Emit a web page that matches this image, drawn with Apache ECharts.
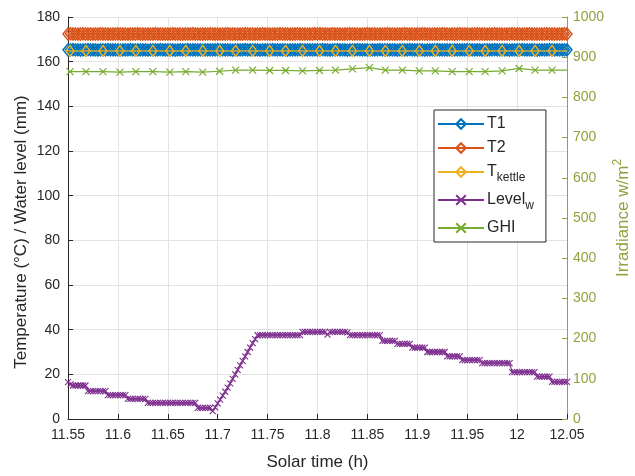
<!DOCTYPE html>
<html>
<head>
<meta charset="utf-8">
<script src="https://cdn.jsdelivr.net/npm/echarts@6/dist/echarts.min.js"></script>
<style>
  html, body { margin: 0; padding: 0; background: #ffffff; overflow: hidden; }
  #chart { width: 635px; height: 476px; }
</style>
</head>
<body>
<div id="chart"></div>
<script>
// Fast-logged channels (every 0.0025 h): collector temperatures and water level
const timeFast = [
  11.5500, 11.5525, 11.5550, 11.5575, 11.5600, 11.5625, 11.5650, 11.5675, 11.5700, 11.5725,
  11.5750, 11.5775, 11.5800, 11.5825, 11.5850, 11.5875, 11.5900, 11.5925, 11.5950, 11.5975,
  11.6000, 11.6025, 11.6050, 11.6075, 11.6100, 11.6125, 11.6150, 11.6175, 11.6200, 11.6225,
  11.6250, 11.6275, 11.6300, 11.6325, 11.6350, 11.6375, 11.6400, 11.6425, 11.6450, 11.6475,
  11.6500, 11.6525, 11.6550, 11.6575, 11.6600, 11.6625, 11.6650, 11.6675, 11.6700, 11.6725,
  11.6750, 11.6775, 11.6800, 11.6825, 11.6850, 11.6875, 11.6900, 11.6925, 11.6950, 11.6975,
  11.7000, 11.7025, 11.7050, 11.7075, 11.7100, 11.7125, 11.7150, 11.7175, 11.7200, 11.7225,
  11.7250, 11.7275, 11.7300, 11.7325, 11.7350, 11.7375, 11.7400, 11.7425, 11.7450, 11.7475,
  11.7500, 11.7525, 11.7550, 11.7575, 11.7600, 11.7625, 11.7650, 11.7675, 11.7700, 11.7725,
  11.7750, 11.7775, 11.7800, 11.7825, 11.7850, 11.7875, 11.7900, 11.7925, 11.7950, 11.7975,
  11.8000, 11.8025, 11.8050, 11.8075, 11.8100, 11.8125, 11.8150, 11.8175, 11.8200, 11.8225,
  11.8250, 11.8275, 11.8300, 11.8325, 11.8350, 11.8375, 11.8400, 11.8425, 11.8450, 11.8475,
  11.8500, 11.8525, 11.8550, 11.8575, 11.8600, 11.8625, 11.8650, 11.8675, 11.8700, 11.8725,
  11.8750, 11.8775, 11.8800, 11.8825, 11.8850, 11.8875, 11.8900, 11.8925, 11.8950, 11.8975,
  11.9000, 11.9025, 11.9050, 11.9075, 11.9100, 11.9125, 11.9150, 11.9175, 11.9200, 11.9225,
  11.9250, 11.9275, 11.9300, 11.9325, 11.9350, 11.9375, 11.9400, 11.9425, 11.9450, 11.9475,
  11.9500, 11.9525, 11.9550, 11.9575, 11.9600, 11.9625, 11.9650, 11.9675, 11.9700, 11.9725,
  11.9750, 11.9775, 11.9800, 11.9825, 11.9850, 11.9875, 11.9900, 11.9925, 11.9950, 11.9975,
  12.0000, 12.0025, 12.0050, 12.0075, 12.0100, 12.0125, 12.0150, 12.0175, 12.0200, 12.0225,
  12.0250, 12.0275, 12.0300, 12.0325, 12.0350, 12.0375, 12.0400, 12.0425, 12.0450, 12.0475,
  12.0500
];

const t1Values = [
  165.3, 165.3, 165.4, 165.3, 165.3, 165.2, 165.3, 165.3, 165.4, 165.3,
  165.3, 165.3, 165.2, 165.3, 165.3, 165.3, 165.4, 165.3, 165.3, 165.3,
  165.3, 165.2, 165.3, 165.3, 165.3, 165.4, 165.3, 165.3, 165.3, 165.3,
  165.3, 165.3, 165.2, 165.3, 165.3, 165.3, 165.3, 165.4, 165.3, 165.3,
  165.3, 165.3, 165.3, 165.2, 165.3, 165.3, 165.3, 165.3, 165.4, 165.3,
  165.3, 165.3, 165.3, 165.3, 165.2, 165.3, 165.3, 165.3, 165.3, 165.3,
  165.4, 165.3, 165.3, 165.3, 165.3, 165.3, 165.2, 165.3, 165.3, 165.3,
  165.3, 165.4, 165.3, 165.3, 165.3, 165.3, 165.3, 165.2, 165.3, 165.3,
  165.3, 165.3, 165.4, 165.3, 165.3, 165.3, 165.3, 165.3, 165.2, 165.3,
  165.3, 165.3, 165.3, 165.4, 165.3, 165.3, 165.3, 165.3, 165.3, 165.3,
  165.3, 165.3, 165.4, 165.3, 165.3, 165.2, 165.3, 165.3, 165.4, 165.3,
  165.3, 165.3, 165.2, 165.3, 165.3, 165.3, 165.4, 165.3, 165.3, 165.3,
  165.3, 165.2, 165.3, 165.3, 165.3, 165.4, 165.3, 165.3, 165.3, 165.3,
  165.3, 165.3, 165.2, 165.3, 165.3, 165.3, 165.3, 165.4, 165.3, 165.3,
  165.3, 165.3, 165.3, 165.2, 165.3, 165.3, 165.3, 165.3, 165.4, 165.3,
  165.3, 165.3, 165.3, 165.3, 165.2, 165.3, 165.3, 165.3, 165.3, 165.3,
  165.4, 165.3, 165.3, 165.3, 165.3, 165.3, 165.2, 165.3, 165.3, 165.3,
  165.3, 165.4, 165.3, 165.3, 165.3, 165.3, 165.3, 165.2, 165.3, 165.3,
  165.3, 165.3, 165.4, 165.3, 165.3, 165.3, 165.3, 165.3, 165.2, 165.3,
  165.3, 165.3, 165.3, 165.4, 165.3, 165.3, 165.3, 165.3, 165.3, 165.3,
  165.3
];

const t2Values = [
  172.4, 172.5, 172.4, 172.4, 172.3, 172.4, 172.5, 172.4, 172.4, 172.4,
  172.3, 172.4, 172.4, 172.5, 172.4, 172.4, 172.4, 172.3, 172.4, 172.4,
  172.5, 172.4, 172.4, 172.4, 172.3, 172.4, 172.4, 172.4, 172.5, 172.4,
  172.4, 172.3, 172.4, 172.4, 172.4, 172.5, 172.4, 172.4, 172.4, 172.3,
  172.4, 172.4, 172.5, 172.4, 172.4, 172.4, 172.3, 172.4, 172.4, 172.4,
  172.5, 172.4, 172.4, 172.3, 172.4, 172.4, 172.4, 172.5, 172.4, 172.4,
  172.4, 172.3, 172.4, 172.4, 172.5, 172.4, 172.4, 172.4, 172.3, 172.4,
  172.4, 172.5, 172.4, 172.4, 172.4, 172.3, 172.4, 172.4, 172.5, 172.4,
  172.4, 172.4, 172.3, 172.4, 172.4, 172.5, 172.4, 172.4, 172.4, 172.3,
  172.4, 172.4, 172.5, 172.4, 172.4, 172.4, 172.3, 172.4, 172.4, 172.5,
  172.4, 172.5, 172.4, 172.4, 172.3, 172.4, 172.5, 172.4, 172.4, 172.4,
  172.3, 172.4, 172.4, 172.5, 172.4, 172.4, 172.4, 172.3, 172.4, 172.4,
  172.5, 172.4, 172.4, 172.4, 172.3, 172.4, 172.4, 172.4, 172.5, 172.4,
  172.4, 172.3, 172.4, 172.4, 172.4, 172.5, 172.4, 172.4, 172.4, 172.3,
  172.4, 172.4, 172.5, 172.4, 172.4, 172.4, 172.3, 172.4, 172.4, 172.4,
  172.5, 172.4, 172.4, 172.3, 172.4, 172.4, 172.4, 172.5, 172.4, 172.4,
  172.4, 172.3, 172.4, 172.4, 172.5, 172.4, 172.4, 172.4, 172.3, 172.4,
  172.4, 172.5, 172.4, 172.4, 172.4, 172.3, 172.4, 172.4, 172.5, 172.4,
  172.4, 172.4, 172.3, 172.4, 172.4, 172.5, 172.4, 172.4, 172.4, 172.3,
  172.4, 172.4, 172.5, 172.4, 172.4, 172.4, 172.3, 172.4, 172.4, 172.5,
  172.4
];

const levelValues = [
  16.5, 15.5, 15.0, 15.0, 15.0, 15.0, 15.0, 15.0, 12.5, 12.5,
  12.5, 12.5, 12.5, 12.5, 12.5, 12.5, 10.7, 10.7, 10.7, 10.7,
  10.7, 10.7, 10.7, 10.7,  9.0,  9.0,  9.0,  9.0,  9.0,  9.0,
   9.0,  9.0,  7.2,  7.2,  7.2,  7.2,  7.2,  7.2,  7.2,  7.2,
   7.2,  7.2,  7.2,  7.2,  7.2,  7.2,  7.2,  7.2,  7.2,  7.2,
   7.2,  7.2,  5.0,  5.0,  5.0,  5.0,  5.0,  5.0,  3.5,  5.2,
   7.0,  8.7, 10.5, 12.2, 14.0, 16.0, 18.0, 20.0, 22.0, 24.0,
  26.0, 28.0, 30.0, 32.0, 34.0, 35.8, 37.5, 37.6, 37.6, 37.6,
  37.6, 37.6, 37.6, 37.6, 37.6, 37.6, 37.6, 37.6, 37.6, 37.6,
  37.6, 37.6, 37.6, 37.6, 39.0, 39.0, 39.0, 39.0, 39.0, 39.0,
  39.0, 39.0, 39.0, 39.0, 37.8, 39.0, 39.0, 39.0, 39.0, 39.0,
  39.0, 39.0, 38.8, 37.6, 37.6, 37.6, 37.6, 37.6, 37.6, 37.6,
  37.6, 37.6, 37.6, 37.6, 37.6, 37.6, 35.0, 35.0, 35.0, 35.0,
  35.0, 35.0, 33.6, 33.6, 33.6, 33.6, 33.6, 33.6, 32.0, 32.0,
  32.0, 32.0, 32.0, 32.0, 30.0, 30.0, 30.0, 30.0, 30.0, 30.0,
  30.0, 30.0, 28.0, 28.0, 28.0, 28.0, 28.0, 28.0, 26.4, 26.4,
  26.4, 26.4, 26.4, 26.4, 26.4, 26.4, 25.0, 25.0, 25.0, 25.0,
  25.0, 25.0, 25.0, 25.0, 25.0, 25.0, 25.0, 25.0, 21.0, 21.0,
  21.0, 21.0, 21.0, 21.0, 21.0, 21.0, 21.0, 21.0, 19.0, 19.0,
  19.0, 19.0, 19.0, 19.0, 16.6, 16.6, 16.6, 16.6, 16.6, 16.6,
  16.6
];

// Slow-logged channels (about once a minute): kettle temperature and irradiance
const timeSlow = [
  11.550, 11.552, 11.568, 11.585, 11.602, 11.618, 11.635, 11.652, 11.668, 11.685,
  11.702, 11.718, 11.735, 11.752, 11.768, 11.785, 11.802, 11.818, 11.835, 11.852,
  11.868, 11.885, 11.902, 11.918, 11.935, 11.952, 11.968, 11.985, 12.002, 12.018,
  12.035, 12.050
];

const kettleValues = [
  164.8, 164.8, 164.8, 164.8, 164.8, 164.8, 164.8, 164.8, 164.8, 164.8,
  164.8, 164.8, 164.8, 164.8, 164.8, 164.8, 164.8, 164.8, 164.8, 164.8,
  164.8, 164.8, 164.8, 164.8, 164.8, 164.8, 164.8, 164.8, 164.8, 164.8,
  164.8, 164.8
];

const ghiValues = [
  864, 864, 864, 864, 863, 864, 864, 863, 864, 863,
  865, 868, 868, 867, 867, 866, 867, 868, 871, 874,
  868, 868, 866, 866, 864, 864, 864, 866, 872, 868,
  868, 868
];

// Axis tick labels
const xTickLabels = ['11.55', '11.6', '11.65', '11.7', '11.75', '11.8', '11.85', '11.9', '11.95', '12', '12.05'];
const leftTickLabels = ['0', '20', '40', '60', '80', '100', '120', '140', '160', '180'];
const rightTickLabels = ['0', '100', '200', '300', '400', '500', '600', '700', '800', '900', '1000'];

const seriesNames = ['T1', 'T2', 'Tkettle', 'Levelw', 'GHI'];

const COLORS = {
  t1: '#0072BD',
  t2: '#D95319',
  kettle: '#EDB120',
  level: '#7E2F8E',
  ghi: '#77AC30',
  rightAxis: '#8ea33e',
  text: '#262626',
  grid: '#e3e3e3'
};

const X_MIN = 11.55, X_STEP = 0.05;
const CROSS = 'path://M0,0L10,10M0,10L10,0';

function pairs(xs, ys) {
  return xs.map((x, i) => [x, ys[i]]);
}

// First and last slow samples are line end points only, without a marker
function slowPairs(xs, ys) {
  return xs.map((x, i) => {
    const item = { value: [x, ys[i]] };
    if (i === 0 || i === xs.length - 1) item.symbol = 'none';
    return item;
  });
}

function lineSeries(name, data, color, symbol, size, yIndex, z, border) {
  return {
    name: name,
    type: 'line',
    yAxisIndex: yIndex,
    data: data,
    symbol: symbol,
    symbolSize: size,
    showAllSymbol: true,
    animation: false,
    z: z,
    lineStyle: { color: color, width: 1.2 },
    itemStyle: { color: 'rgba(255,255,255,0)', borderColor: color, borderWidth: border },
    emphasis: { disabled: true }
  };
}

const chart = echarts.init(document.getElementById('chart'), null, { renderer: 'canvas', width: 635, height: 476 });

const option = {
  backgroundColor: '#ffffff',
  animation: false,
  textStyle: { fontFamily: 'Liberation Sans, Arial, sans-serif' },
  grid: { left: 68, top: 17, width: 499, height: 402, containLabel: false, outerBoundsMode: 'none' },
  legend: {
    orient: 'vertical',
    left: 434,
    top: 110,
    padding: [6, 12, 6, 3],
    itemGap: 8,
    itemWidth: 46,
    itemHeight: 12,
    backgroundColor: '#ffffff',
    borderColor: '#262626',
    borderWidth: 1,
    data: seriesNames,
    textStyle: {
      fontSize: 16,
      color: COLORS.text,
      padding: [0, 0, 0, -2],
      rich: {
        sub: { fontSize: 12, color: COLORS.text, padding: [12, 0, 0, 0] }
      }
    },
    formatter: function (name) {
      if (name === 'Tkettle') return 'T{sub|kettle}';
      if (name === 'Levelw') return 'Level{sub|w}';
      return name;
    }
  },
  xAxis: {
    type: 'value',
    min: X_MIN,
    max: 12.05,
    interval: X_STEP,
    name: 'Solar time (h)',
    nameLocation: 'middle',
    nameGap: 35,
    nameMoveOverlap: false,
    nameTextStyle: { fontSize: 17, color: COLORS.text },
    axisLine: { lineStyle: { color: COLORS.text, width: 1 } },
    axisTick: { inside: true, length: 5, lineStyle: { color: COLORS.text } },
    axisLabel: {
      fontSize: 14,
      color: COLORS.text,
      margin: 9,
      formatter: function (v) {
        const k = Math.round((v - X_MIN) / X_STEP);
        return xTickLabels[k] !== undefined ? xTickLabels[k] : '';
      }
    },
    splitLine: { show: true, lineStyle: { color: COLORS.grid, width: 1 } }
  },
  yAxis: [
    {
      type: 'value',
      position: 'left',
      min: 0,
      max: 180,
      interval: 20,
      name: 'Temperature (°C) / Water level (mm)',
      nameLocation: 'middle',
      nameGap: 38,
      nameMoveOverlap: false,
      nameTextStyle: { fontSize: 17, color: COLORS.text, padding: [0, 28, 0, 0] },
      axisLine: { show: true, lineStyle: { color: COLORS.text, width: 1 } },
      axisTick: { show: true, inside: true, length: 5, lineStyle: { color: COLORS.text } },
      axisLabel: {
        fontSize: 14,
        color: COLORS.text,
        margin: 8,
        formatter: function (v) {
          const k = Math.round(v / 20);
          return leftTickLabels[k] !== undefined ? leftTickLabels[k] : '';
        }
      },
      splitLine: { show: true, lineStyle: { color: COLORS.grid, width: 1 } }
    },
    {
      type: 'value',
      position: 'right',
      min: 0,
      max: 1000,
      interval: 100,
      name: 'Irradiance w/m{sup|2}',
      nameLocation: 'middle',
      nameRotate: 90,
      nameGap: 45,
      nameMoveOverlap: false,
      nameTextStyle: {
        fontSize: 17,
        color: COLORS.rightAxis,
        rich: { sup: { fontSize: 12, color: COLORS.rightAxis, padding: [0, 0, 11, 0] } }
      },
      axisLine: { show: true, lineStyle: { color: COLORS.rightAxis, width: 1 } },
      axisTick: { show: true, inside: true, length: 5, lineStyle: { color: COLORS.rightAxis } },
      axisLabel: {
        fontSize: 14,
        color: COLORS.rightAxis,
        margin: 6,
        formatter: function (v) {
          const k = Math.round(v / 100);
          return rightTickLabels[k] !== undefined ? rightTickLabels[k] : '';
        }
      },
      splitLine: { show: false }
    }
  ],
  series: [
    lineSeries('T1', pairs(timeFast, t1Values), COLORS.t1, 'diamond', [10, 12], 0, 2, 1.5),
    lineSeries('T2', pairs(timeFast, t2Values), COLORS.t2, 'diamond', [10, 12], 0, 3, 1.5),
    lineSeries('Tkettle', slowPairs(timeSlow, kettleValues), COLORS.kettle, 'diamond', [8, 11], 0, 4, 1.4),
    lineSeries('Levelw', pairs(timeFast, levelValues), COLORS.level, CROSS, 6, 0, 5, 1.1),
    lineSeries('GHI', slowPairs(timeSlow, ghiValues), COLORS.ghi, CROSS, 7, 1, 6, 1.2)
  ]
};

chart.setOption(option);
</script>
</body>
</html>
